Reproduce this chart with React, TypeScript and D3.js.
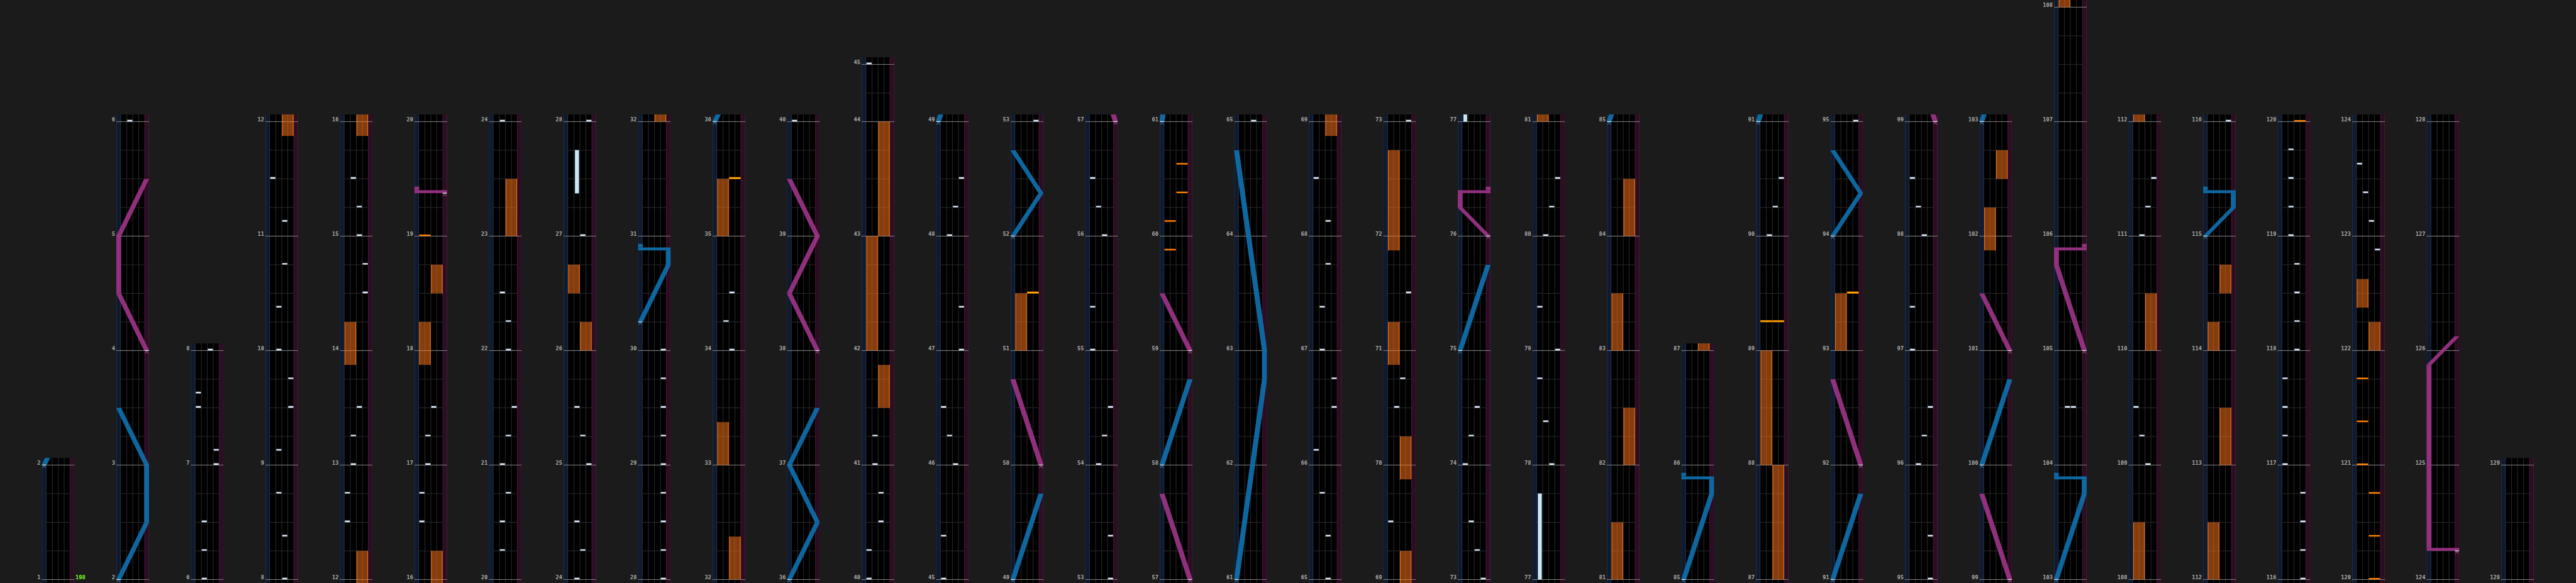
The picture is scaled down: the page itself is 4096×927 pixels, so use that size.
import React from 'react';
import * as d3 from 'd3';

// columns: [first measure, end measure]
const columnRanges: [number, number][] = [
  [1, 2], [2, 6], [6, 8], [8, 12], [12, 16], [16, 20], [20, 24], [24, 28], [28, 32], [32, 36],
  [36, 40], [40, 45], [45, 49], [49, 53], [53, 57], [57, 61], [61, 65], [65, 69], [69, 73], [73, 77],
  [77, 81], [81, 85], [85, 87], [87, 91], [91, 95], [95, 99], [99, 103], [103, 108], [108, 112],
  [112, 116], [116, 120], [120, 124], [124, 128], [128, 129],
];
const halfMeasures = [44];
const bpmLabels: [number, string][] = [[1, '198']];

// [time in measures, lane 0..3]
const btNotes: [number, number][] = [
  [6, 1], [6.25, 1], [6.5, 1], [7, 3], [7.125, 3], [7.5, 0], [7.625, 0], [8, 2],
  [8.375, 2], [8.75, 1], [9.125, 1], [9.5, 3], [9.75, 3], [10, 1], [10.375, 1], [10.75, 2], [11.125, 2], [11.5, 0],
  [12.5, 0], [12.75, 0], [13, 1], [13.25, 1], [13.5, 2], [14.5, 3], [14.75, 3], [15, 2], [15.25, 2], [15.5, 1],
  [16.5, 0], [16.75, 0], [17, 1], [17.25, 1], [17.5, 2],
  [20.25, 1], [20.5, 1], [20.75, 2], [21, 1], [21.25, 2], [21.5, 3], [22, 2], [22.25, 2], [22.5, 1], [24, 1],
  [24.25, 2], [24.5, 1], [25, 3], [25.25, 2], [25.5, 1], [27, 2], [28, 3],
  [28.25, 3], [28.5, 3], [28.75, 3], [29, 3], [29.25, 3], [29.5, 3], [29.75, 3], [30, 3],
  [34, 2], [34.25, 1], [34.5, 2],
  [40, 0], [40.25, 0], [40.5, 2], [40.75, 2], [41, 1], [41.25, 1], [45, 0],
  [45.375, 0], [46, 2], [46.25, 1], [46.5, 0], [47, 3], [47.375, 3], [48, 1], [48.25, 2], [48.5, 3],
  [53, 3], [53.375, 3], [54, 1], [54.25, 2], [54.5, 3], [55, 0], [55.375, 0], [56, 2], [56.25, 1], [56.5, 0],
  [65, 2], [65.375, 2], [65.75, 1], [66.125, 0], [66.5, 3], [66.75, 3], [67, 1], [67.375, 1], [67.75, 2], [68.125, 2], [68.5, 0],
  [69.5, 0], [70.5, 1], [70.75, 2], [71.5, 3], [73, 3],
  [73.25, 2], [73.5, 1], [74, 0], [74.25, 1], [74.5, 2],
  [78, 2], [78.375, 1], [78.75, 0], [79, 3], [79.375, 0], [80, 1], [80.25, 2], [80.5, 3],
  [90, 1], [90.25, 2], [90.5, 3], [95, 3],
  [95.375, 3], [96, 1], [96.25, 2], [96.5, 3], [97, 0], [97.375, 0], [98, 2], [98.25, 1], [98.5, 0],
  [104.5, 1], [104.5, 2],
  [109, 2], [109.25, 1], [109.5, 0], [111, 1], [111.25, 2], [111.5, 3],
  [116, 3], [116.25, 3], [116.5, 3], [116.75, 3], [117, 0], [117.25, 0], [117.5, 0], [117.75, 0],
  [118, 2], [118.25, 2], [118.5, 2], [118.75, 2], [119, 1], [119.25, 1], [119.5, 1], [119.75, 1],
  [122.875, 3], [123.125, 2], [123.375, 1], [123.625, 0],
];

// [lane, start, end]
const btHolds: [number, number, number][] = [
  [1, 27.375, 27.75],
  [0, 77, 77.75],
];

// [time, side, yellow?]
const fxChips: [number, 'L' | 'R', number][] = [
  [19, 'L', 0], [35.5, 'R', 1], [51.5, 'R', 1],
  [59.875, 'L', 0], [60.125, 'L', 0], [60.375, 'R', 0], [60.625, 'R', 0],
  [89.25, 'L', 1], [89.25, 'R', 1], [93.5, 'R', 1],
  [120, 'R', 0], [120.375, 'R', 0], [120.75, 'R', 0], [121, 'L', 0], [121.375, 'L', 0], [121.75, 'L', 0],
];

// [side, start, end]
const fxHolds: ['L' | 'R', number, number][] = [
  ['R', 11.875, 12.25], ['L', 13.875, 14.25], ['R', 15.875, 16.25], ['L', 17.875, 18.25], ['R', 18.5, 18.75],
  ['R', 23, 23.5], ['R', 26, 26.25], ['L', 26.5, 26.75], ['R', 32, 32.375], ['L', 33, 33.375], ['L', 35, 35.5],
  ['R', 41.5, 41.875], ['L', 42, 43], ['R', 43, 44], ['L', 51, 51.5],
  ['R', 68.875, 69.25], ['R', 69.875, 70.25], ['L', 70.875, 71.25], ['L', 71.875, 72.75],
  ['L', 81, 81.5], ['R', 82, 82.5], ['L', 83, 83.5], ['R', 84, 84.5], ['R', 87, 88], ['L', 88, 89],
  ['L', 93, 93.5], ['L', 101.875, 102.25], ['R', 102.5, 102.75], ['L', 108, 108.5], ['R', 110, 110.5],
  ['L', 112, 112.5], ['R', 113, 113.5], ['L', 114, 114.25], ['R', 114.5, 114.75],
  ['R', 122, 122.25], ['L', 122.375, 122.625],
];

// lasers: points [time, position 0..1]; equal times = slam
const lasers: { side: 'L' | 'R'; pts: [number, number][] }[] = [
  { side: 'L', pts: [[2, 0], [2.5, 1], [3, 1], [3.5, 0]] },
  { side: 'R', pts: [[4, 1], [4.5, 0], [5, 0], [5.5, 1]] },
  { side: 'R', pts: [[19.375, 1], [19.375, 0]] },
  { side: 'L', pts: [[30.25, 0], [30.75, 1], [30.875, 1], [30.875, 0]] },
  { side: 'L', pts: [[36, 0], [36.5, 1], [37, 0], [37.5, 1]] },
  { side: 'R', pts: [[38, 1], [38.5, 0], [39, 1], [39.5, 0]] },
  { side: 'L', pts: [[49, 0], [49.75, 1]] },
  { side: 'R', pts: [[50, 1], [50.75, 0]] },
  { side: 'L', pts: [[52, 0], [52.375, 1], [52.75, 0]] },
  { side: 'R', pts: [[57, 1], [57.75, 0]] },
  { side: 'L', pts: [[58, 0], [58.75, 1]] },
  { side: 'R', pts: [[59, 1], [59.5, 0]] },
  { side: 'L', pts: [[61, 0], [62.75, 1], [63, 1], [64.75, 0]] },
  { side: 'L', pts: [[75, 0], [75.75, 1]] },
  { side: 'R', pts: [[76, 1], [76.25, 0], [76.375, 0], [76.375, 1]] },
  { side: 'L', pts: [[85, 0], [85.75, 1], [85.875, 1], [85.875, 0]] },
  { side: 'L', pts: [[91, 0], [91.75, 1]] },
  { side: 'R', pts: [[92, 1], [92.75, 0]] },
  { side: 'L', pts: [[94, 0], [94.375, 1], [94.75, 0]] },
  { side: 'R', pts: [[99, 1], [99.75, 0]] },
  { side: 'L', pts: [[100, 0], [100.75, 1]] },
  { side: 'R', pts: [[101, 1], [101.5, 0]] },
  { side: 'L', pts: [[103, 0], [103.75, 1], [103.875, 1], [103.875, 0]] },
  { side: 'R', pts: [[105, 1], [105.75, 0], [105.875, 0], [105.875, 1]] },
  { side: 'L', pts: [[115, 0], [115.25, 1], [115.375, 1], [115.375, 0]] },
  { side: 'R', pts: [[124.25, 1], [124.25, 0], [125.875, 0], [126.125, 1]] },
];

const SCALE = 0.948;
const MEASURE_PX = 192;
const BOTTOM = 972;
const COL_X0 = 70;
const COL_STEP = 125;
const COL_W = 55;
const STRIP = 7.7;
const LANE = 10;

const laserColors = { L: '#0f72b0', R: '#a0358a' };
const chevronColors = { L: '#3f93cc', R: '#d066ad' };

function measureLen(m: number) {
  return halfMeasures.includes(m) ? 0.5 : 1;
}

function beatPos(t: number) {
  const m = Math.floor(t + 1e-9);
  let base = 0;
  for (let k = 1; k < m; k++) base += measureLen(k);
  return base + (t - m) * measureLen(m);
}

function Column({ idx, start, end }: { idx: number; start: number; end: number }) {
  const x0 = COL_X0 + idx * COL_STEP;
  const b0 = beatPos(start);
  const b1 = beatPos(end);
  const y = d3.scaleLinear().domain([b0, b1]).range([BOTTOM, BOTTOM - (b1 - b0) * MEASURE_PX]);
  const yt = (t: number) => y(beatPos(t));
  const top = yt(end) - 12;
  const laneX = d3.scaleLinear().domain([0, 4]).range([STRIP, STRIP + 4 * LANE]);
  const laserX = d3.scaleLinear().domain([0, 1]).range([4, 51]);
  const inRange = (a: number, b: number) => b >= start - 0.1 && a <= end + 0.1;
  const clipId = `col-clip-${idx}`;

  const beatLines = d3.range(b0 + 0.25, b1 - 0.01, 0.25);
  const measures = d3.range(start, end + 1);

  const laserShapes: React.ReactNode[] = [];
  const chevrons: React.ReactNode[] = [];
  lasers.forEach((ls, li) => {
    const first = ls.pts[0][0];
    const last = ls.pts[ls.pts.length - 1][0];
    if (!inRange(first, last)) return;
    const shapes: React.ReactNode[] = [];
    const p = ls.pts;
    for (let i = 0; i < p.length - 1; i++) {
      const [ta, pa] = p[i];
      const [tb, pb] = p[i + 1];
      const xa = laserX(pa);
      const xb = laserX(pb);
      if (ta === tb) {
        shapes.push(
          <rect key={`s${i}`} x={Math.min(xa, xb) - 4} y={yt(ta) - 5} width={Math.abs(xb - xa) + 8} height={5} />
        );
      } else {
        const afterSlam = i > 0 && p[i - 1][0] === ta;
        const y1 = yt(ta) - (afterSlam ? 5 : 0);
        const y2 = yt(tb);
        shapes.push(
          <polygon key={`q${i}`} points={`${xa - 4.3},${y1} ${xa + 4.3},${y1} ${xb + 4.3},${y2} ${xb - 4.3},${y2}`} />
        );
      }
    }
    const n = p.length;
    if (n > 1 && p[n - 1][0] === p[n - 2][0]) {
      const xe = laserX(p[n - 1][1]);
      shapes.push(<rect key="tail" x={xe - 4} y={yt(p[n - 1][0]) - 11} width={8} height={6} />);
    }
    laserShapes.push(
      <g key={`l${li}`} fill={laserColors[ls.side]} opacity={0.9}>
        {shapes}
      </g>
    );
    const sx = laserX(p[0][1]);
    const sy = yt(p[0][0]);
    chevrons.push(
      <g key={`c${li}`}>
        <rect x={sx - 3.5} y={sy - 0.6} width={7} height={1.3} fill="#e8eef4" />
        <path d={`M${sx - 3},${sy + 5} L${sx},${sy + 1.5} L${sx + 3},${sy + 5}`} fill="none" stroke={chevronColors[ls.side]} strokeWidth={1} />
      </g>
    );
  });

  return (
    <g transform={`translate(${x0},0)`}>
      <defs>
        <clipPath id={clipId}>
          <rect x={0} y={top} width={COL_W} height={990 - top} />
        </clipPath>
      </defs>
      <g clipPath={`url(#${clipId})`}>
        <rect x={0} y={top} width={COL_W} height={990 - top} fill="#000" />
        <rect x={0} y={top} width={STRIP} height={990 - top} fill="#111a2d" />
        <rect x={COL_W - STRIP} y={top} width={STRIP} height={990 - top} fill="#2a0e21" />
        {[0.5, STRIP - 0.5].map((x) => (
          <line key={`lb${x}`} x1={x} x2={x} y1={top} y2={990} stroke="#22354f" strokeWidth={1} />
        ))}
        {[COL_W - STRIP + 0.5, COL_W - 0.5].map((x) => (
          <line key={`rb${x}`} x1={x} x2={x} y1={top} y2={990} stroke="#4a1838" strokeWidth={1} />
        ))}
        {beatLines.map((b) => (
          <line key={`b${b}`} x1={STRIP} x2={STRIP + 4 * LANE} y1={y(b)} y2={y(b)} stroke="#2e2e2e" strokeWidth={1} />
        ))}
        {[1, 2, 3].map((k) => (
          <line key={`v${k}`} x1={laneX(k)} x2={laneX(k)} y1={top} y2={990} stroke="#2e2e2e" strokeWidth={1} />
        ))}
        {measures.map((m) => (
          <line key={`m${m}`} x1={0} x2={COL_W} y1={yt(m)} y2={yt(m)} stroke="#8a8a8a" strokeWidth={1} />
        ))}
        {fxHolds
          .filter(([, a, b]) => inRange(a, b))
          .map(([side, a, b], i) => {
            const x = laneX(side === 'L' ? 0 : 2) + 0.5;
            const ya = yt(b);
            const yb = yt(a);
            return (
              <g key={`fh${i}`}>
                <rect x={x} y={ya} width={19} height={yb - ya} fill="#ff7419" opacity={0.52} />
                <line x1={x + 0.5} x2={x + 0.5} y1={ya} y2={yb} stroke="#ff7a1a" strokeWidth={1} />
                <line x1={x + 18.5} x2={x + 18.5} y1={ya} y2={yb} stroke="#ff7a1a" strokeWidth={1} />
              </g>
            );
          })}
        {btHolds
          .filter(([, a, b]) => inRange(a, b))
          .map(([lane, a, b], i) => {
            const cx = laneX(lane + 0.5);
            const ya = yt(b);
            const yb = yt(a);
            return (
              <g key={`bh${i}`}>
                <rect x={cx - 3} y={ya} width={6} height={yb - ya} fill="#d9edf5" stroke="#8fc2da" strokeWidth={0.8} />
                <line x1={cx} x2={cx} y1={ya} y2={yb} stroke="#b8d8e6" strokeWidth={1} />
              </g>
            );
          })}
        {fxChips
          .filter(([t]) => inRange(t, t))
          .map(([t, side, yellow], i) => (
            <rect
              key={`fc${i}`}
              x={laneX(side === 'L' ? 0 : 2) + 0.5}
              y={yt(t) - 2.6}
              width={19}
              height={2.6}
              fill={yellow ? '#ffb000' : '#ff7f00'}
              stroke={yellow ? '#ff7a00' : 'none'}
              strokeWidth={0.6}
            />
          ))}
        {btNotes
          .filter(([t]) => inRange(t, t))
          .map(([t, lane], i) => (
            <rect
              key={`bt${i}`}
              x={laneX(lane) + 0.8}
              y={yt(t) - 2.8}
              width={LANE - 1.6}
              height={2.6}
              fill="#e2eaf3"
              stroke="#8197ac"
              strokeWidth={0.5}
            />
          ))}
        {laserShapes}
        {chevrons}
      </g>
      {measures.map((m) => (
        <text
          key={`t${m}`}
          x={-2}
          y={yt(m) - 0.5}
          textAnchor="end"
          fontFamily="'DejaVu Sans Mono', monospace"
          fontWeight="bold"
          fontSize={9.2}
          fill="#a9a9a9"
        >
          {m}
        </text>
      ))}
      {bpmLabels
        .filter(([m]) => m >= start && m < end)
        .map(([m, label]) => (
          <text
            key={`bpm${m}`}
            x={COL_W + 1.5}
            y={yt(m) - 0.5}
            fontFamily="'DejaVu Sans Mono', monospace"
            fontWeight="bold"
            fontSize={9.2}
            fill="#7dff22"
          >
            {label}
          </text>
        ))}
    </g>
  );
}

export default function App() {
  return (
    <svg
      width={4096}
      height={927}
      style={{ position: 'absolute', left: 0, top: 0, display: 'block' }}
    >
      <rect x={0} y={0} width={4096} height={927} fill="#1b1b1b" />
      <g transform={`scale(${SCALE})`}>
        {columnRanges.map(([s, e], i) => (
          <Column key={i} idx={i} start={s} end={e} />
        ))}
      </g>
    </svg>
  );
}
